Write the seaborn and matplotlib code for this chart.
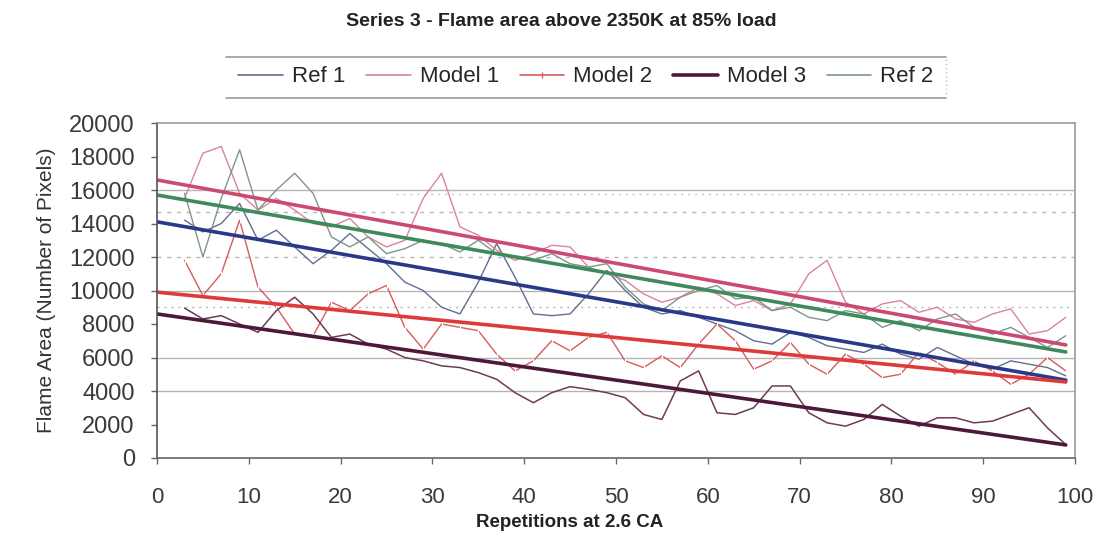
import matplotlib
matplotlib.use("Agg")
import matplotlib.pyplot as plt
from matplotlib.lines import Line2D
import seaborn as sns

# Repetition index of each sample (every second repetition)
reps = list(range(3, 100, 2))

ref1 = [14200, 13500, 14000, 15200, 13000, 13600, 12600, 11600, 12400, 13400,
        12500, 11600, 10500, 10000, 9000, 8600, 10500, 12800, 10800, 8600,
        8500, 8600, 9800, 11200, 10000, 9000, 8600, 8800, 8400, 8000,
        7600, 7000, 6800, 7500, 7200, 6700, 6500, 6300, 6800, 6200,
        5900, 6600, 6100, 5600, 5300, 5800, 5600, 5400, 4900]

model1 = [15500, 18200, 18600, 15800, 14800, 15500, 14800, 14000, 13800, 14300,
          13200, 12600, 13000, 15500, 17000, 13800, 13300, 12400, 11800, 12200,
          12700, 12600, 11400, 11000, 10600, 9800, 9300, 9600, 10200, 9800,
          9100, 9400, 8800, 9200, 11000, 11800, 9300, 8600, 9200, 9400,
          8700, 9000, 8300, 8100, 8600, 8900, 7400, 7600, 8400]

model2 = [11800, 9700, 11000, 14200, 10200, 9000, 7400, 7300, 9300, 8800,
          9800, 10300, 7800, 6500, 8000, 7800, 7600, 6200, 5200, 5800,
          7000, 6400, 7200, 7500, 5800, 5400, 6100, 5400, 6800, 8000,
          7000, 5300, 5800, 6900, 5600, 5000, 6200, 5600, 4800, 5000,
          6300, 5700, 5000, 5800, 5200, 4400, 5000, 6000, 5200]

model3 = [8950, 8300, 8500, 8000, 7500, 8800, 9600, 8600, 7200, 7400,
          6800, 6500, 6000, 5800, 5500, 5400, 5100, 4700, 3900, 3300,
          3900, 4260, 4100, 3900, 3600, 2600, 2300, 4600, 5200, 2700,
          2600, 3000, 4300, 4300, 2700, 2100, 1900, 2300, 3200, 2500,
          1900, 2400, 2400, 2100, 2200, 2600, 3000, 1800, 800]

ref2 = [15800, 12000, 15500, 18400, 14800, 16000, 17000, 15800, 13200, 12600,
        13200, 12200, 12500, 13000, 12800, 12300, 13000, 12200, 12000, 11800,
        12200, 11600, 11400, 11600, 10200, 9200, 8800, 9600, 10000, 10300,
        9500, 9600, 8800, 9000, 8400, 8200, 8800, 8600, 7800, 8200,
        7600, 8300, 8600, 7800, 7400, 7800, 7200, 6600, 7300]

series_names = ["Ref 1", "Model 1", "Model 2", "Model 3", "Ref 2"]
series_values = [ref1, model1, model2, model3, ref2]

# Linear trend of each series: value at repetition 0 and at repetition 99
trend_x = [0, 99]
trend_start = [14100, 16600, 9900, 8600, 15700]
trend_end = [4650, 6750, 4540, 780, 6330]

y_ticks = list(range(0, 20001, 2000))
x_ticks = list(range(0, 101, 10))

thin_colors = ["#626e92", "#d8849c", "#d65c5c", "#6e3a56", "#7e9686"]
trend_colors = ["#2a3888", "#cc4a70", "#de3a3a", "#4e1838", "#3f8a5c"]
thin_widths = [1.0, 1.0, 1.0, 1.1, 1.0]

sns.set_theme(style="white")
plt.rcParams["font.family"] = ["Liberation Sans", "DejaVu Sans"]

fig = plt.figure(figsize=(10.98, 5.39), dpi=100)
ax = fig.add_axes([157 / 1098, 81 / 539, (1075 - 157) / 1098, (458 - 123) / 539])

# Faint printed gridlines
for val in (4000, 6000, 10000, 16000):
    ax.axhline(val, color="#b4b4b4", lw=1.0, zorder=0)
for val in (12000, 14700):
    ax.axhline(val, color="#b8b8b8", lw=1.0, ls=(0, (3, 4)), zorder=0)
ax.axhline(9000, color="#b8b8b8", lw=1.0, ls=(0, (1.5, 3.5)), zorder=0)
ax.plot([26, 100], [15750, 15750], color="#c8c8c8", lw=1.0, ls=(0, (1.5, 3.5)), zorder=0)

# Raw series
for name, vals, col, lw in zip(series_names, series_values, thin_colors, thin_widths):
    if name == "Model 2":
        sns.lineplot(x=reps, y=vals, color=col, lw=lw, marker="|", markersize=4,
                     markeredgewidth=0.8, ax=ax, legend=False)
    else:
        sns.lineplot(x=reps, y=vals, color=col, lw=lw, ax=ax, legend=False)

# Trend lines
for s, e, col in zip(trend_start, trend_end, trend_colors):
    sns.lineplot(x=trend_x, y=[s, e], color=col, lw=2.6, ax=ax, legend=False)

ax.set_xlim(0, 100)
ax.set_ylim(0, 20000)
ax.set_xticks(x_ticks)
ax.set_yticks(y_ticks)
ax.tick_params(axis="both", which="major", direction="out", length=4, width=1,
               color="#666666", bottom=True, left=True)
ax.tick_params(axis="y", labelsize=17, pad=12)
ax.tick_params(axis="x", labelsize=16, pad=17)
for lab in ax.get_xticklabels() + ax.get_yticklabels():
    lab.set_color("#3a3a3a")

for side, col in (("left", "#555555"), ("bottom", "#666666"),
                  ("top", "#9a9a9a"), ("right", "#9a9a9a")):
    ax.spines[side].set_visible(True)
    ax.spines[side].set_color(col)
    ax.spines[side].set_linewidth(1.2)

ax.set_xlabel("Repetitions at 2.6 CA", fontsize=13.5, fontweight="bold", color="#222222")
ax.xaxis.set_label_coords((570 - 157) / 918, -0.167)
ax.set_ylabel("Flame Area (Number of Pixels)", fontsize=15, color="#333333")
ax.yaxis.set_label_coords((56 - 157) / 918, 0.5)

fig.text(561 / 1098, 1 - 22 / 539, "Series 3 - Flame area above 2350K at 85% load",
         ha="center", va="center", fontsize=14, fontweight="bold", color="#222222")

# Legend with ruled top and bottom edges
handles = [
    Line2D([], [], color=thin_colors[0], lw=1.2),
    Line2D([], [], color=thin_colors[1], lw=1.2),
    Line2D([], [], color=thin_colors[2], lw=1.2, marker="|", markersize=5, markevery=[1]),
    Line2D([], [], color=trend_colors[3], lw=2.6),
    Line2D([], [], color=thin_colors[4], lw=1.2),
]
fig.legend(handles, series_names, ncol=5, loc="center",
           bbox_to_anchor=(586 / 1098, 1 - 77 / 539), frameon=False,
           fontsize=16, handlelength=2.0, handletextpad=0.4, columnspacing=0.95)
for yy in (57, 98):
    fig.add_artist(Line2D([226 / 1098, 946 / 1098], [1 - yy / 539, 1 - yy / 539],
                          color="#9a9a9a", lw=1.2))
fig.add_artist(Line2D([946 / 1098, 946 / 1098], [1 - 98 / 539, 1 - 57 / 539],
                      color="#c0c0c0", lw=1.0, ls=(0, (1, 2))))

fig.savefig("out.png", dpi=100, facecolor="white")
